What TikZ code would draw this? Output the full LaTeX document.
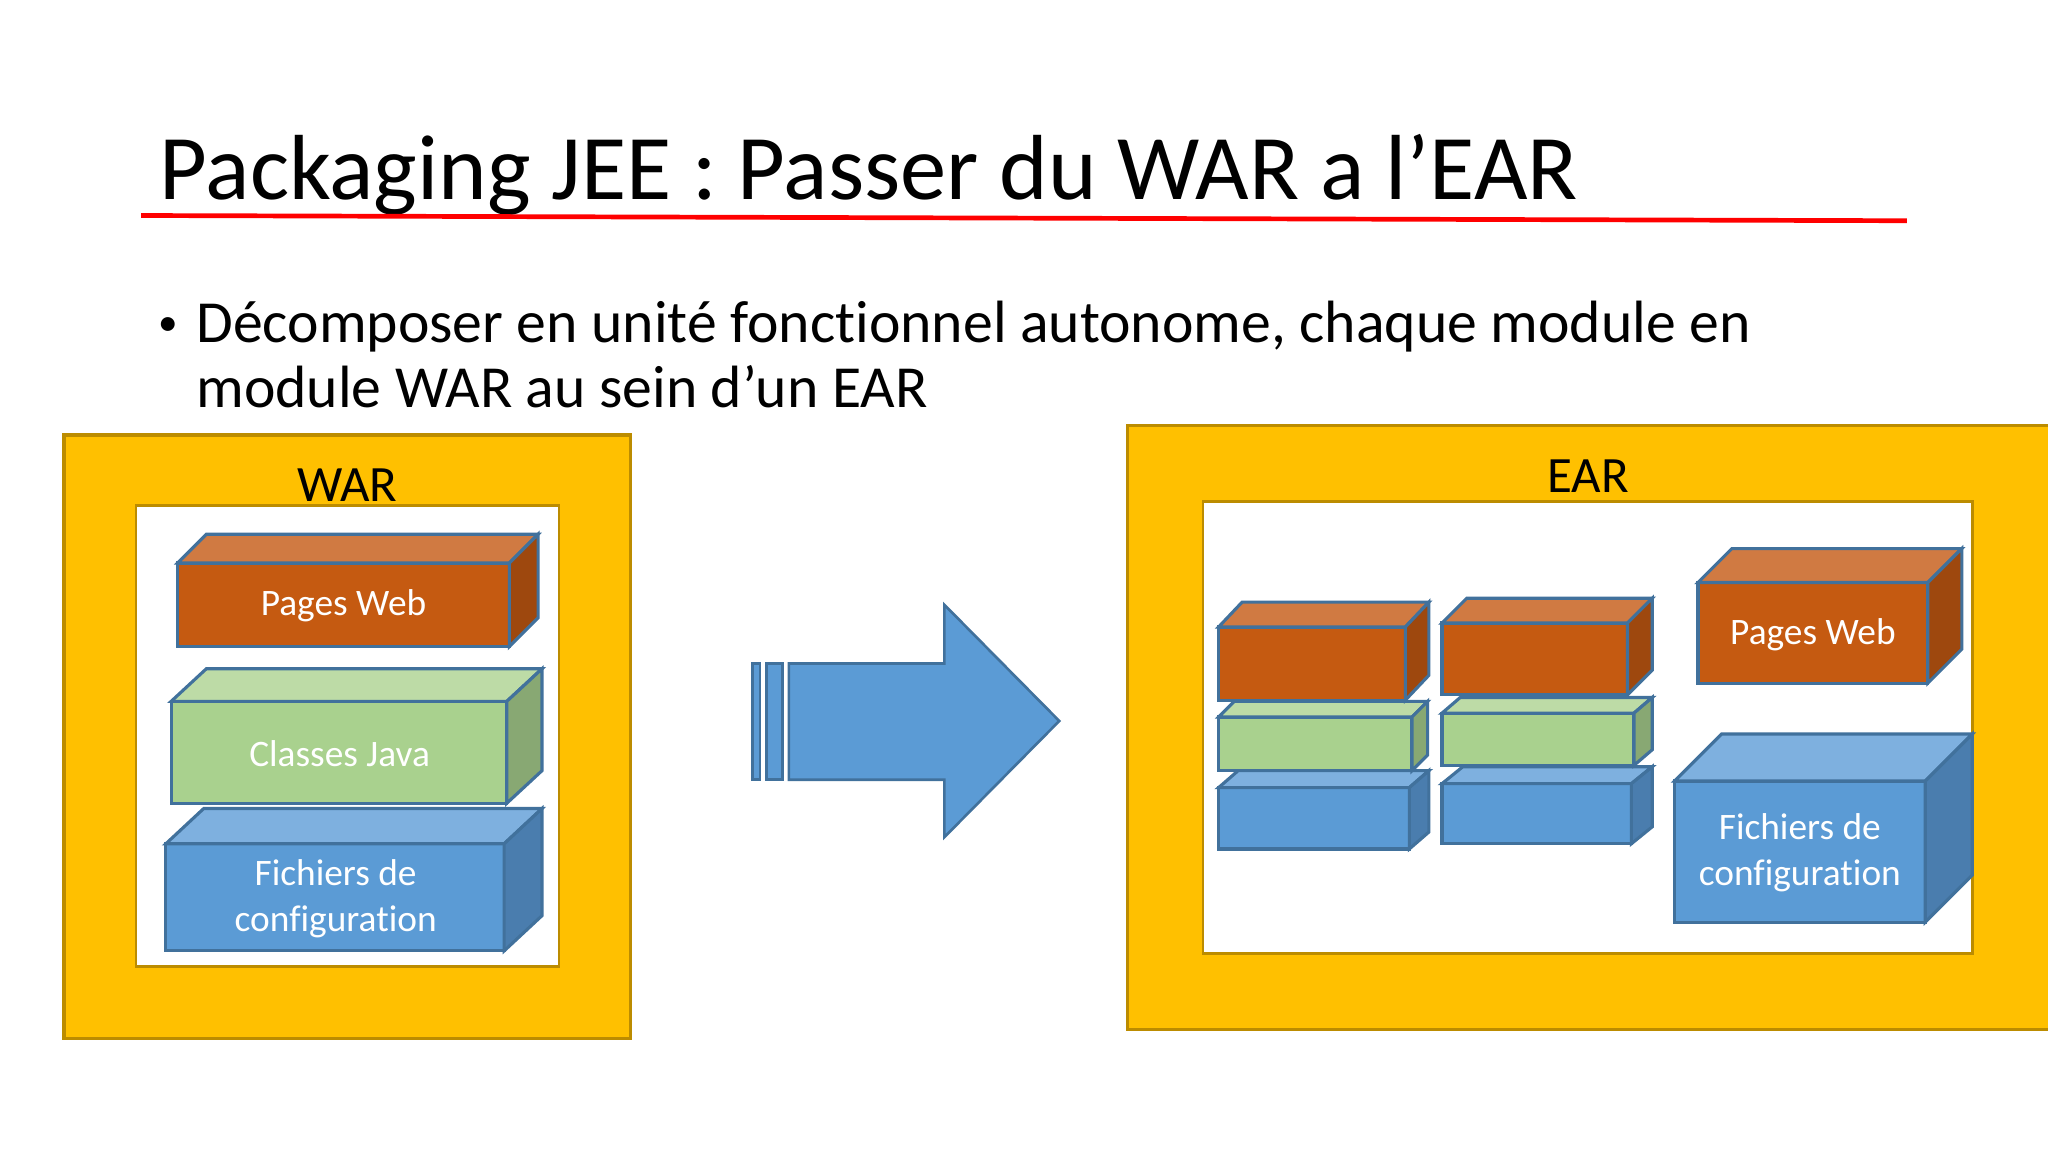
\documentclass[tikz,border=0pt]{standalone}
\usepackage{fontspec}
\setmainfont{Carlito}[Ligatures=NoCommon]
\definecolor{gold}{HTML}{FFC000}
\definecolor{goldline}{HTML}{BC8C00}
\definecolor{orF}{HTML}{C55A11}
\definecolor{orT}{HTML}{D07A42}
\definecolor{orS}{HTML}{9E480E}
\definecolor{grF}{HTML}{A9D18E}
\definecolor{grT}{HTML}{BDDBA6}
\definecolor{grS}{HTML}{88A873}
\definecolor{blF}{HTML}{5B9BD5}
\definecolor{blT}{HTML}{7EB0DF}
\definecolor{blS}{HTML}{4A7DAE}
\definecolor{edge}{HTML}{41719C}
\newcommand\drawcube[9]{%
  \filldraw[fill=#7,draw=edge,line width=1.2pt,line join=miter] (#1,#2) rectangle (#3,#4);
  \filldraw[fill=#8,draw=edge,line width=1.2pt] (#1,#2) -- ({#1+#5},{#2-#6}) -- ({#3+#5},{#2-#6}) -- (#3,#2) -- cycle;
  \filldraw[fill=#9,draw=edge,line width=1.2pt] (#3,#2) -- ({#3+#5},{#2-#6}) -- ({#3+#5},{#4-#6}) -- (#3,#4) -- cycle;
}
\tikzset{
  frame/.style={fill=gold,draw=goldline,line width=1.2pt},
  inner/.style={fill=white,draw=goldline,line width=1pt},
  lbl/.style={font=\fontsize{19.5}{23}\selectfont,anchor=base},
  boxtxt/.style={text=white,font=\fontsize{14.3}{17.5}\selectfont,align=center},
  bodytxt/.style={anchor=base west,inner sep=0pt,font=\fontsize{22.85}{27}\selectfont},
}
\begin{document}
\begin{tikzpicture}[x=0.5pt,y=-0.5pt]
\useasboundingbox (0,0) rectangle (1568,882);
\fill[white] (0,0) rectangle (1568,882);
% title
\node[anchor=base west,inner sep=0pt,font=\fontsize{35.4}{42}\selectfont] (title) at (122,153) {Packaging JEE : Passer du WAR a l’EAR};
\coordinate (rl) at (108,165);
\coordinate (rr) at (1460,169);
\draw[red,line width=1.8pt] (rl) -- (rr);
% bullet
\node[anchor=base west,inner sep=0pt,font=\fontsize{15}{18}\selectfont] (bul) at (121,257) {•};
\node[bodytxt] (l1) at (150,262) {Décomposer en unité fonctionnel autonome, chaque module en};
\node[bodytxt] (l2) at (150,312) {module WAR au sein d’un EAR};
% WAR
\draw[frame] (49,333) rectangle (483,795);
\node[lbl] (warl) at (266,384) {WAR};
\draw[inner] (104,387) rectangle (428,740);
\drawcube{136}{431}{390}{495}{22}{22}{orF}{orT}{orS}
\node[boxtxt] (wpw) at (263,464) {Pages Web};
\drawcube{131}{537}{388}{615}{27}{25}{grF}{grT}{grS}
\node[boxtxt] (wcj) at (260,577) {Classes Java};
\drawcube{127}{646}{386}{728}{29}{27}{blF}{blT}{blS}
\node[boxtxt] (wfc) at (257,688) {Fichiers de\\configuration};
% arrow
\filldraw[fill=blF,draw=edge,line width=1pt] (576,508) rectangle (582,597);
\filldraw[fill=blF,draw=edge,line width=1pt] (587,508) rectangle (599,597);
\filldraw[fill=blF,draw=edge,line width=1pt] (604,508) -- (723,508) -- (723,463) -- (811,552) -- (723,641) -- (723,597) -- (604,597) -- cycle;
% EAR
\draw[frame] (863,326) rectangle (1580,788);
\node[lbl] (earl) at (1216,377) {EAR};
\draw[inner] (921,384) rectangle (1510,730);
% column 1
\drawcube{933}{603}{1079}{650}{15}{13}{blF}{blT}{blS}
\drawcube{933}{549}{1081}{590}{12}{12}{grF}{grT}{grS}
\drawcube{933}{480}{1076}{536}{18}{19}{orF}{orT}{orS}
% column 2
\drawcube{1104}{600}{1249}{646}{16}{13}{blF}{blT}{blS}
\drawcube{1104}{546}{1251}{586}{14}{12}{grF}{grT}{grS}
\drawcube{1104}{477}{1246}{532}{19}{19}{orF}{orT}{orS}
% big boxes
\drawcube{1300}{446}{1476}{523}{26}{26}{orF}{orT}{orS}
\node[boxtxt] (epw) at (1388,486) {Pages Web};
\drawcube{1282}{598}{1474}{706}{36}{36}{blF}{blT}{blS}
\node[boxtxt] (efc) at (1378,653) {Fichiers de\\configuration};
\end{tikzpicture}
\end{document}
